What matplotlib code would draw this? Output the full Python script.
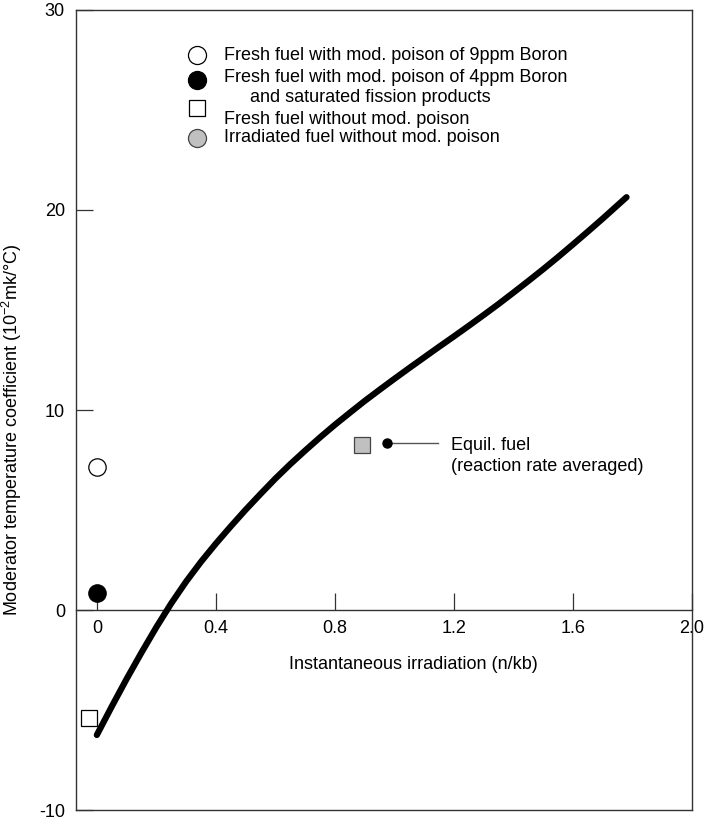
import matplotlib
matplotlib.use("Agg")
import matplotlib.pyplot as plt

plt.rcParams["font.family"] = ["Liberation Sans", "DejaVu Sans"]
plt.rcParams["mathtext.fontset"] = "custom"
plt.rcParams["mathtext.rm"] = "Liberation Sans"
plt.rcParams["mathtext.it"] = "Liberation Sans:italic"
plt.rcParams["axes.unicode_minus"] = False

# main curve
curve_x = [0.00, 0.05, 0.10, 0.15, 0.20, 0.25, 0.30, 0.35, 0.40, 0.45, 0.50, 0.55,
           0.60, 0.65, 0.70, 0.75, 0.80, 0.85, 0.90, 0.95, 1.00, 1.05, 1.10, 1.15,
           1.20, 1.25, 1.30, 1.35, 1.40, 1.45, 1.50, 1.55, 1.60, 1.65, 1.70, 1.75, 1.78]
curve_y = [-6.25, -4.83, -3.45, -2.13, -0.86, 0.33, 1.42, 2.41, 3.32, 4.18, 5.01, 5.80,
           6.57, 7.29, 7.97, 8.63, 9.26, 9.86, 10.45, 11.01, 11.56, 12.10, 12.63, 13.16,
           13.68, 14.21, 14.75, 15.30, 15.87, 16.45, 17.04, 17.65, 18.28, 18.92, 19.57,
           20.24, 20.64]

# single points
boron9_x, boron9_y = [0.0], [7.15]
boron4_x, boron4_y = [0.0], [0.87]
fresh_x, fresh_y = [-0.026], [-5.4]
equil_x, equil_y = [0.89], [8.25]

# leader line for the equil. fuel note
note_x = [0.975, 1.148]
note_y = [8.37, 8.37]

x_ticks = [0.0, 0.4, 0.8, 1.2, 1.6, 2.0]
x_ticklabels = ["0", "0.4", "0.8", "1.2", "1.6", "2.0"]
y_ticks = [-10, 0, 10, 20, 30]

legend_labels = [
    "Fresh fuel with mod. poison of 9ppm Boron",
    "Fresh fuel with mod. poison of 4ppm Boron",
    "and saturated fission products",
    "Fresh fuel without mod. poison",
    "Irradiated fuel without mod. poison",
]

FS = 13

fig = plt.figure(figsize=(7.09, 8.21), dpi=100)
ax = fig.add_axes([76 / 709, 11 / 821, 616 / 709, 800 / 821])
ax.set_xlim(-0.07, 2.0)
ax.set_ylim(-10, 30)

for s in ax.spines.values():
    s.set_color("#333333")
    s.set_linewidth(1.0)


def px(xp, yp):
    # pixel position in the picture -> axes fraction
    return ((xp - 76) / 616, (810 - yp) / 800)


ax.plot(curve_x, curve_y, color="black", lw=4.5, solid_capstyle="round",
        solid_joinstyle="round", zorder=3)

ax.plot(boron9_x, boron9_y, "o", ms=12.5, mfc="white", mec="black", mew=0.9, zorder=4)
ax.plot(boron4_x, boron4_y, "o", ms=12.5, mfc="black", mec="black", mew=0.9, zorder=4)
ax.plot(fresh_x, fresh_y, "s", ms=11.3, mfc="white", mec="black", mew=0.9, zorder=4)
ax.plot(equil_x, equil_y, "s", ms=11.5, mfc="#c0c0c0", mec="#444444", mew=0.9, zorder=4)

ax.plot(note_x, note_y, color="#555555", lw=1.0, zorder=3)
ax.plot(note_x[:1], note_y[:1], "o", ms=6.5, color="black", zorder=4)
ax.text(*px(451, 445), "Equil. fuel", transform=ax.transAxes, fontsize=FS,
        va="center", ha="left")
ax.text(*px(451, 466), "(reaction rate averaged)", transform=ax.transAxes,
        fontsize=FS, va="center", ha="left")

# y axis
ax.set_yticks(y_ticks)
ax.tick_params(axis="y", direction="in", length=12, width=0.9, pad=8,
               labelsize=FS, color="#333333")
ax.set_ylabel("Moderator temperature coefficient (10$^{-2}$mk/\u00b0C)", fontsize=FS)
ax.yaxis.set_label_coords(-0.084, 0.475)

# x axis drawn through y = 0
ax.tick_params(axis="x", bottom=False, labelbottom=False)
sec = ax.secondary_xaxis(0.25)
sec.set_xticks(x_ticks)
sec.set_xticklabels(x_ticklabels)
sec.tick_params(axis="x", direction="in", length=12, width=0.9, pad=7.5,
                labelsize=FS, color="#333333")
sec.spines["bottom"].set_color("#333333")
sec.spines["bottom"].set_linewidth(1.0)
ax.text(*px(413, 664), "Instantaneous irradiation (n/kb)", transform=ax.transAxes,
        fontsize=FS, va="center", ha="center")

# legend drawn by hand
mk_x = 196.7
ax.plot(*px(mk_x, 55), "o", ms=13, mfc="white", mec="black", mew=0.9,
        transform=ax.transAxes, clip_on=False)
ax.plot(*px(mk_x, 80), "o", ms=13, mfc="black", mec="black", mew=0.9,
        transform=ax.transAxes, clip_on=False)
ax.plot(*px(mk_x, 108), "s", ms=11.5, mfc="white", mec="black", mew=0.9,
        transform=ax.transAxes, clip_on=False)
ax.plot(*px(mk_x, 138), "o", ms=13, mfc="#c0c0c0", mec="#444444", mew=0.9,
        transform=ax.transAxes, clip_on=False)

text_rows = [(224, 55), (224, 77), (250, 97), (224, 119), (224, 138)]
for (tx, ty), lab in zip(text_rows, legend_labels):
    ax.text(*px(tx, ty), lab, transform=ax.transAxes, fontsize=FS,
            va="center", ha="left")

fig.savefig("out.png", dpi=100)
